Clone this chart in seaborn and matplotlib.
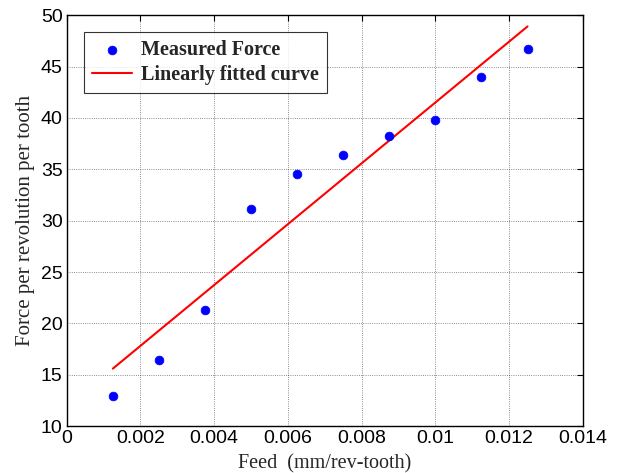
import numpy as np
import pandas as pd
import matplotlib
matplotlib.use('Agg')
import matplotlib.pyplot as plt
import seaborn as sns

# ----- Data -----
feed = [0.00125, 0.0025, 0.00375, 0.005, 0.00625, 0.0075, 0.00875, 0.01, 0.01125, 0.0125]
force = [12.9, 16.4, 21.3, 31.1, 34.5, 36.4, 38.2, 39.8, 44.0, 46.7]
fit_feed = [0.00125, 0.0125]
fit_force = [15.6, 48.9]
xticks = [0, 0.002, 0.004, 0.006, 0.008, 0.01, 0.012, 0.014]
xtick_labels = ['0', '0.002', '0.004', '0.006', '0.008', '0.01', '0.012', '0.014']
yticks = [10, 15, 20, 25, 30, 35, 40, 45, 50]

df = pd.DataFrame({'feed': feed, 'force': force})
df_fit = pd.DataFrame({'feed': fit_feed, 'force': fit_force})

sns.set_style('white')
plt.rcParams['font.family'] = ['Liberation Sans', 'DejaVu Sans']

fig = plt.figure(figsize=(6.24, 4.73), dpi=100)
ax = fig.add_axes([0.107, 0.099, 0.827, 0.869])

sns.scatterplot(data=df, x='feed', y='force', ax=ax, color='blue', marker='o',
                s=40, edgecolor='blue', linewidth=0.5, label='Measured Force', zorder=3)
sns.lineplot(data=df_fit, x='feed', y='force', ax=ax, color='red', linewidth=1.5,
             label='Linearly fitted curve', zorder=2)

ax.set_xlim(0, 0.014)
ax.set_ylim(10, 50)
ax.set_xticks(xticks)
ax.set_xticklabels(xtick_labels)
ax.set_yticks(yticks)
ax.tick_params(direction='in', top=True, right=True, labelsize=14, length=4, width=0.8,
               colors='black', pad=3)
ax.grid(True, color='black', linestyle=':', linewidth=0.6, alpha=0.6)
for sp in ax.spines.values():
    sp.set_color('black')
    sp.set_linewidth(1.0)

ax.set_xlabel('Feed  (mm/rev-tooth)', family='Liberation Serif', fontsize=14.5, labelpad=5)
ax.set_ylabel('Force per revolution per tooth', family='Liberation Serif', fontsize=15, labelpad=4)

leg = ax.legend(loc='upper left', bbox_to_anchor=(0.033, 0.959), frameon=True, fancybox=False,
                edgecolor='black', borderpad=0.4, handlelength=2.0, handletextpad=0.45,
                labelspacing=0.25, borderaxespad=0,
                prop={'family': 'Liberation Serif', 'weight': 'bold', 'size': 14.5})
leg.get_frame().set_linewidth(0.8)

fig.savefig('out.png', dpi=100)
